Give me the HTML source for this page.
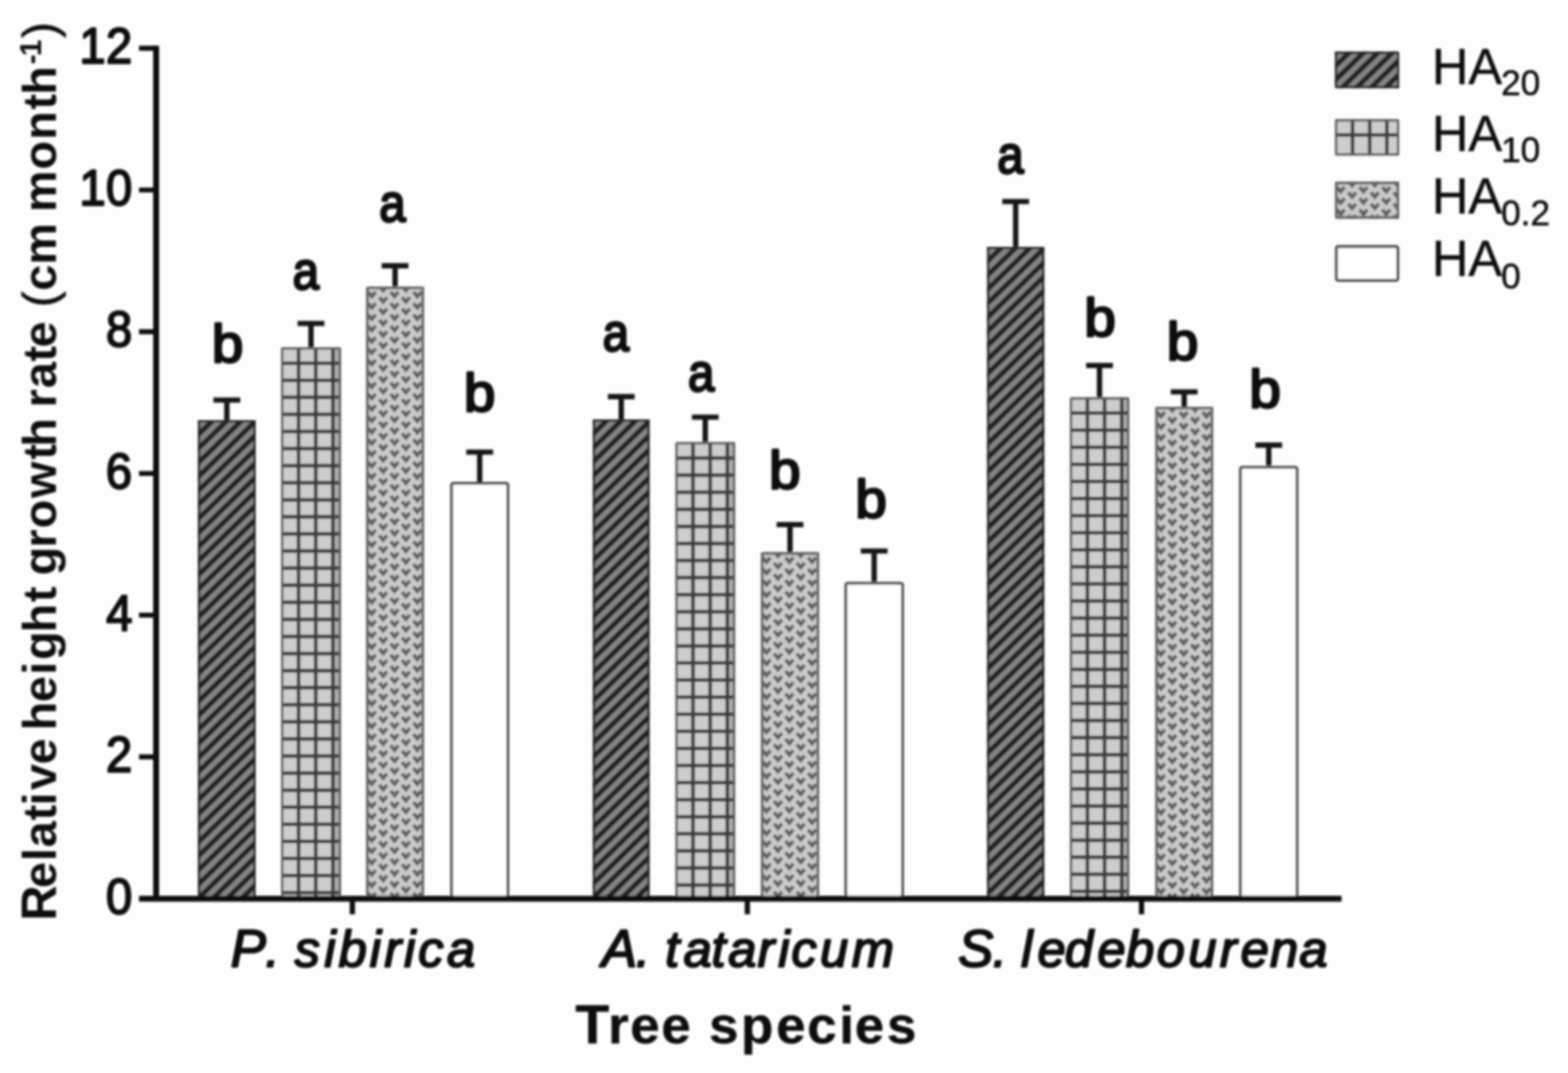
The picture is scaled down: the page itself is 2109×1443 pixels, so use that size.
<!DOCTYPE html>
<html lang="en">
<head>
<meta charset="utf-8">
<title>Relative height growth rate by tree species</title>
<style>
html,body{margin:0;padding:0;background:#fdfdfd;}
body{width:2109px;height:1443px;overflow:hidden;font-family:"Liberation Sans", Arial, Helvetica, sans-serif;}
svg{display:block;}
</style>
</head>
<body>
<svg width="2109" height="1443" viewBox="0 0 2109 1443" font-family='"Liberation Sans", Arial, Helvetica, sans-serif' fill="#0c0c0c">
<defs><filter id="soft" x="-2%" y="-2%" width="104%" height="104%"><feGaussianBlur stdDeviation="1.5"/></filter></defs>
<rect width="2109" height="1443" fill="#fdfdfd"/>
<g filter="url(#soft)">
<path d="M305.1 567.0V538.0M287.1 538.0H323.1" stroke="#181818" stroke-width="7.2" fill="none"/>
<g>
<clipPath id="cb0"><rect x="266.3" y="565.0" width="77.5" height="643.5"/></clipPath>
<rect x="266.3" y="565.0" width="77.5" height="643.5" fill="#848484"/>
<g clip-path="url(#cb0)">
<path d="M260.3 552.9L349.8 465.8M260.3 571.8L349.8 484.7M260.3 590.7L349.8 503.6M260.3 609.6L349.8 522.5M260.3 628.5L349.8 541.4M260.3 647.4L349.8 560.3M260.3 666.3L349.8 579.2M260.3 685.2L349.8 598.1M260.3 704.1L349.8 617.0M260.3 723.0L349.8 635.9M260.3 741.9L349.8 654.8M260.3 760.8L349.8 673.7M260.3 779.7L349.8 692.6M260.3 798.6L349.8 711.5M260.3 817.5L349.8 730.4M260.3 836.4L349.8 749.3M260.3 855.3L349.8 768.2M260.3 874.2L349.8 787.1M260.3 893.1L349.8 806.0M260.3 912.0L349.8 824.9M260.3 930.9L349.8 843.8M260.3 949.8L349.8 862.7M260.3 968.7L349.8 881.6M260.3 987.6L349.8 900.5M260.3 1006.5L349.8 919.4M260.3 1025.4L349.8 938.3M260.3 1044.3L349.8 957.2M260.3 1063.2L349.8 976.1M260.3 1082.1L349.8 995.0M260.3 1101.0L349.8 1013.9M260.3 1119.9L349.8 1032.8M260.3 1138.8L349.8 1051.7M260.3 1157.7L349.8 1070.6M260.3 1176.6L349.8 1089.5M260.3 1195.5L349.8 1108.4M260.3 1214.4L349.8 1127.3M260.3 1233.3L349.8 1146.2M260.3 1252.2L349.8 1165.1M260.3 1271.1L349.8 1184.0M260.3 1290.0L349.8 1202.9M260.3 1308.9L349.8 1221.8M260.3 1327.8L349.8 1240.7M260.3 1346.7L349.8 1259.6" stroke="#202020" stroke-width="6.9" fill="none"/>
</g>
<rect x="267.8" y="566.5" width="74.5" height="640.5" rx="0.5" fill="none" stroke="#2a2a2a" stroke-width="3.0"/>
</g>
<text transform="translate(306.1 486.6) scale(1.1 1.055)" font-size="69" text-anchor="middle" stroke="#0c0c0c" stroke-width="3.2" stroke-linejoin="round">b</text>
<path d="M418.3 469.0V435.0M400.3 435.0H436.3" stroke="#181818" stroke-width="7.2" fill="none"/>
<g>
<clipPath id="cb1"><rect x="378.0" y="467.0" width="80.6" height="741.5"/></clipPath>
<rect x="378.0" y="467.0" width="80.6" height="741.5" fill="#cdcdcd"/>
<g clip-path="url(#cb1)">
<rect x="447.8" y="467.0" width="10.8" height="741.5" fill="#000" fill-opacity="0.13"/>
<path d="M401.6 467.0V1208.5M424.7 467.0V1208.5M447.8 467.0V1208.5M378.0 488.4H458.6M378.0 511.4H458.6M378.0 534.3H458.6M378.0 557.3H458.6M378.0 580.3H458.6M378.0 603.3H458.6M378.0 626.2H458.6M378.0 649.2H458.6M378.0 672.2H458.6M378.0 695.1H458.6M378.0 718.1H458.6M378.0 741.1H458.6M378.0 764.0H458.6M378.0 787.0H458.6M378.0 810.0H458.6M378.0 833.0H458.6M378.0 855.9H458.6M378.0 878.9H458.6M378.0 901.9H458.6M378.0 924.8H458.6M378.0 947.8H458.6M378.0 970.8H458.6M378.0 993.7H458.6M378.0 1016.7H458.6M378.0 1039.7H458.6M378.0 1062.7H458.6M378.0 1085.6H458.6M378.0 1108.6H458.6M378.0 1131.6H458.6M378.0 1154.5H458.6M378.0 1177.5H458.6M378.0 1200.5H458.6" stroke="#3e3e3e" stroke-width="5.0" fill="none"/>
</g>
<rect x="379.6" y="468.6" width="77.4" height="738.3" rx="0.5" fill="none" stroke="#5e5e5e" stroke-width="3.2"/>
</g>
<text transform="translate(411.5 388.6) scale(0.92 1.055)" font-size="69" text-anchor="middle" stroke="#0c0c0c" stroke-width="3.2" stroke-linejoin="round">a</text>
<path d="M531.4 387.4V357.4M513.4 357.4H549.4" stroke="#181818" stroke-width="7.2" fill="none"/>
<g>
<clipPath id="cb2"><rect x="492.4" y="385.4" width="78.0" height="823.1"/></clipPath>
<rect x="492.4" y="385.4" width="78.0" height="823.1" fill="#cbcbcb"/>
<g clip-path="url(#cb2)">
<path d="M479.6 384.6L484.8 390.8L490.0 384.6M479.6 399.8L484.8 406.0L490.0 399.8M479.6 415.1L484.8 421.2L490.0 415.1M479.6 430.3L484.8 436.5L490.0 430.3M479.6 445.6L484.8 451.8L490.0 445.6M479.6 460.8L484.8 467.0L490.0 460.8M479.6 476.1L484.8 482.2L490.0 476.1M479.6 491.3L484.8 497.5L490.0 491.3M479.6 506.6L484.8 512.8L490.0 506.6M479.6 521.8L484.8 528.0L490.0 521.8M479.6 537.0L484.8 543.2L490.0 537.0M479.6 552.3L484.8 558.5L490.0 552.3M479.6 567.5L484.8 573.8L490.0 567.5M479.6 582.8L484.8 589.0L490.0 582.8M479.6 598.0L484.8 604.2L490.0 598.0M479.6 613.3L484.8 619.5L490.0 613.3M479.6 628.5L484.8 634.8L490.0 628.5M479.6 643.8L484.8 650.0L490.0 643.8M479.6 659.0L484.8 665.2L490.0 659.0M479.6 674.3L484.8 680.5L490.0 674.3M479.6 689.5L484.8 695.8L490.0 689.5M479.6 704.8L484.8 711.0L490.0 704.8M479.6 720.0L484.8 726.2L490.0 720.0M479.6 735.3L484.8 741.5L490.0 735.3M479.6 750.5L484.8 756.8L490.0 750.5M479.6 765.8L484.8 772.0L490.0 765.8M479.6 781.0L484.8 787.2L490.0 781.0M479.6 796.3L484.8 802.5L490.0 796.3M479.6 811.5L484.8 817.8L490.0 811.5M479.6 826.8L484.8 833.0L490.0 826.8M479.6 842.0L484.8 848.2L490.0 842.0M479.6 857.3L484.8 863.5L490.0 857.3M479.6 872.5L484.8 878.8L490.0 872.5M479.6 887.8L484.8 894.0L490.0 887.8M479.6 903.0L484.8 909.2L490.0 903.0M479.6 918.3L484.8 924.5L490.0 918.3M479.6 933.5L484.8 939.8L490.0 933.5M479.6 948.8L484.8 955.0L490.0 948.8M479.6 964.0L484.8 970.2L490.0 964.0M479.6 979.3L484.8 985.5L490.0 979.3M479.6 994.5L484.8 1000.8L490.0 994.5M479.6 1009.8L484.8 1016.0L490.0 1009.8M479.6 1025.0L484.8 1031.2L490.0 1025.0M479.6 1040.3L484.8 1046.5L490.0 1040.3M479.6 1055.5L484.8 1061.8L490.0 1055.5M479.6 1070.8L484.8 1077.0L490.0 1070.8M479.6 1086.0L484.8 1092.2L490.0 1086.0M479.6 1101.3L484.8 1107.5L490.0 1101.3M479.6 1116.5L484.8 1122.8L490.0 1116.5M479.6 1131.8L484.8 1138.0L490.0 1131.8M479.6 1147.0L484.8 1153.2L490.0 1147.0M479.6 1162.3L484.8 1168.5L490.0 1162.3M479.6 1177.5L484.8 1183.8L490.0 1177.5M479.6 1192.8L484.8 1199.0L490.0 1192.8M479.6 1208.0L484.8 1214.2L490.0 1208.0M494.9 377.3L500.1 383.5L505.3 377.3M494.9 392.6L500.1 398.8L505.3 392.6M494.9 407.8L500.1 414.0L505.3 407.8M494.9 423.1L500.1 429.2L505.3 423.1M494.9 438.3L500.1 444.5L505.3 438.3M494.9 453.6L500.1 459.8L505.3 453.6M494.9 468.8L500.1 475.0L505.3 468.8M494.9 484.1L500.1 490.2L505.3 484.1M494.9 499.3L500.1 505.5L505.3 499.3M494.9 514.5L500.1 520.8L505.3 514.5M494.9 529.8L500.1 536.0L505.3 529.8M494.9 545.0L500.1 551.2L505.3 545.0M494.9 560.3L500.1 566.5L505.3 560.3M494.9 575.5L500.1 581.8L505.3 575.5M494.9 590.8L500.1 597.0L505.3 590.8M494.9 606.0L500.1 612.2L505.3 606.0M494.9 621.3L500.1 627.5L505.3 621.3M494.9 636.5L500.1 642.8L505.3 636.5M494.9 651.8L500.1 658.0L505.3 651.8M494.9 667.0L500.1 673.2L505.3 667.0M494.9 682.3L500.1 688.5L505.3 682.3M494.9 697.5L500.1 703.8L505.3 697.5M494.9 712.8L500.1 719.0L505.3 712.8M494.9 728.0L500.1 734.2L505.3 728.0M494.9 743.3L500.1 749.5L505.3 743.3M494.9 758.5L500.1 764.8L505.3 758.5M494.9 773.8L500.1 780.0L505.3 773.8M494.9 789.0L500.1 795.2L505.3 789.0M494.9 804.3L500.1 810.5L505.3 804.3M494.9 819.5L500.1 825.8L505.3 819.5M494.9 834.8L500.1 841.0L505.3 834.8M494.9 850.0L500.1 856.2L505.3 850.0M494.9 865.3L500.1 871.5L505.3 865.3M494.9 880.5L500.1 886.8L505.3 880.5M494.9 895.8L500.1 902.0L505.3 895.8M494.9 911.0L500.1 917.2L505.3 911.0M494.9 926.3L500.1 932.5L505.3 926.3M494.9 941.5L500.1 947.8L505.3 941.5M494.9 956.8L500.1 963.0L505.3 956.8M494.9 972.0L500.1 978.2L505.3 972.0M494.9 987.3L500.1 993.5L505.3 987.3M494.9 1002.5L500.1 1008.8L505.3 1002.5M494.9 1017.8L500.1 1024.0L505.3 1017.8M494.9 1033.0L500.1 1039.2L505.3 1033.0M494.9 1048.3L500.1 1054.5L505.3 1048.3M494.9 1063.5L500.1 1069.8L505.3 1063.5M494.9 1078.8L500.1 1085.0L505.3 1078.8M494.9 1094.0L500.1 1100.2L505.3 1094.0M494.9 1109.3L500.1 1115.5L505.3 1109.3M494.9 1124.5L500.1 1130.8L505.3 1124.5M494.9 1139.8L500.1 1146.0L505.3 1139.8M494.9 1155.0L500.1 1161.2L505.3 1155.0M494.9 1170.3L500.1 1176.5L505.3 1170.3M494.9 1185.5L500.1 1191.8L505.3 1185.5M494.9 1200.8L500.1 1207.0L505.3 1200.8M494.9 1216.0L500.1 1222.2L505.3 1216.0M510.2 384.6L515.4 390.8L520.6 384.6M510.2 399.8L515.4 406.0L520.6 399.8M510.2 415.1L515.4 421.2L520.6 415.1M510.2 430.3L515.4 436.5L520.6 430.3M510.2 445.6L515.4 451.8L520.6 445.6M510.2 460.8L515.4 467.0L520.6 460.8M510.2 476.1L515.4 482.2L520.6 476.1M510.2 491.3L515.4 497.5L520.6 491.3M510.2 506.6L515.4 512.8L520.6 506.6M510.2 521.8L515.4 528.0L520.6 521.8M510.2 537.0L515.4 543.2L520.6 537.0M510.2 552.3L515.4 558.5L520.6 552.3M510.2 567.5L515.4 573.8L520.6 567.5M510.2 582.8L515.4 589.0L520.6 582.8M510.2 598.0L515.4 604.2L520.6 598.0M510.2 613.3L515.4 619.5L520.6 613.3M510.2 628.5L515.4 634.8L520.6 628.5M510.2 643.8L515.4 650.0L520.6 643.8M510.2 659.0L515.4 665.2L520.6 659.0M510.2 674.3L515.4 680.5L520.6 674.3M510.2 689.5L515.4 695.8L520.6 689.5M510.2 704.8L515.4 711.0L520.6 704.8M510.2 720.0L515.4 726.2L520.6 720.0M510.2 735.3L515.4 741.5L520.6 735.3M510.2 750.5L515.4 756.8L520.6 750.5M510.2 765.8L515.4 772.0L520.6 765.8M510.2 781.0L515.4 787.2L520.6 781.0M510.2 796.3L515.4 802.5L520.6 796.3M510.2 811.5L515.4 817.8L520.6 811.5M510.2 826.8L515.4 833.0L520.6 826.8M510.2 842.0L515.4 848.2L520.6 842.0M510.2 857.3L515.4 863.5L520.6 857.3M510.2 872.5L515.4 878.8L520.6 872.5M510.2 887.8L515.4 894.0L520.6 887.8M510.2 903.0L515.4 909.2L520.6 903.0M510.2 918.3L515.4 924.5L520.6 918.3M510.2 933.5L515.4 939.8L520.6 933.5M510.2 948.8L515.4 955.0L520.6 948.8M510.2 964.0L515.4 970.2L520.6 964.0M510.2 979.3L515.4 985.5L520.6 979.3M510.2 994.5L515.4 1000.8L520.6 994.5M510.2 1009.8L515.4 1016.0L520.6 1009.8M510.2 1025.0L515.4 1031.2L520.6 1025.0M510.2 1040.3L515.4 1046.5L520.6 1040.3M510.2 1055.5L515.4 1061.8L520.6 1055.5M510.2 1070.8L515.4 1077.0L520.6 1070.8M510.2 1086.0L515.4 1092.2L520.6 1086.0M510.2 1101.3L515.4 1107.5L520.6 1101.3M510.2 1116.5L515.4 1122.8L520.6 1116.5M510.2 1131.8L515.4 1138.0L520.6 1131.8M510.2 1147.0L515.4 1153.2L520.6 1147.0M510.2 1162.3L515.4 1168.5L520.6 1162.3M510.2 1177.5L515.4 1183.8L520.6 1177.5M510.2 1192.8L515.4 1199.0L520.6 1192.8M510.2 1208.0L515.4 1214.2L520.6 1208.0M525.5 377.3L530.7 383.5L535.9 377.3M525.5 392.6L530.7 398.8L535.9 392.6M525.5 407.8L530.7 414.0L535.9 407.8M525.5 423.1L530.7 429.2L535.9 423.1M525.5 438.3L530.7 444.5L535.9 438.3M525.5 453.6L530.7 459.8L535.9 453.6M525.5 468.8L530.7 475.0L535.9 468.8M525.5 484.1L530.7 490.2L535.9 484.1M525.5 499.3L530.7 505.5L535.9 499.3M525.5 514.5L530.7 520.8L535.9 514.5M525.5 529.8L530.7 536.0L535.9 529.8M525.5 545.0L530.7 551.2L535.9 545.0M525.5 560.3L530.7 566.5L535.9 560.3M525.5 575.5L530.7 581.8L535.9 575.5M525.5 590.8L530.7 597.0L535.9 590.8M525.5 606.0L530.7 612.2L535.9 606.0M525.5 621.3L530.7 627.5L535.9 621.3M525.5 636.5L530.7 642.8L535.9 636.5M525.5 651.8L530.7 658.0L535.9 651.8M525.5 667.0L530.7 673.2L535.9 667.0M525.5 682.3L530.7 688.5L535.9 682.3M525.5 697.5L530.7 703.8L535.9 697.5M525.5 712.8L530.7 719.0L535.9 712.8M525.5 728.0L530.7 734.2L535.9 728.0M525.5 743.3L530.7 749.5L535.9 743.3M525.5 758.5L530.7 764.8L535.9 758.5M525.5 773.8L530.7 780.0L535.9 773.8M525.5 789.0L530.7 795.2L535.9 789.0M525.5 804.3L530.7 810.5L535.9 804.3M525.5 819.5L530.7 825.8L535.9 819.5M525.5 834.8L530.7 841.0L535.9 834.8M525.5 850.0L530.7 856.2L535.9 850.0M525.5 865.3L530.7 871.5L535.9 865.3M525.5 880.5L530.7 886.8L535.9 880.5M525.5 895.8L530.7 902.0L535.9 895.8M525.5 911.0L530.7 917.2L535.9 911.0M525.5 926.3L530.7 932.5L535.9 926.3M525.5 941.5L530.7 947.8L535.9 941.5M525.5 956.8L530.7 963.0L535.9 956.8M525.5 972.0L530.7 978.2L535.9 972.0M525.5 987.3L530.7 993.5L535.9 987.3M525.5 1002.5L530.7 1008.8L535.9 1002.5M525.5 1017.8L530.7 1024.0L535.9 1017.8M525.5 1033.0L530.7 1039.2L535.9 1033.0M525.5 1048.3L530.7 1054.5L535.9 1048.3M525.5 1063.5L530.7 1069.8L535.9 1063.5M525.5 1078.8L530.7 1085.0L535.9 1078.8M525.5 1094.0L530.7 1100.2L535.9 1094.0M525.5 1109.3L530.7 1115.5L535.9 1109.3M525.5 1124.5L530.7 1130.8L535.9 1124.5M525.5 1139.8L530.7 1146.0L535.9 1139.8M525.5 1155.0L530.7 1161.2L535.9 1155.0M525.5 1170.3L530.7 1176.5L535.9 1170.3M525.5 1185.5L530.7 1191.8L535.9 1185.5M525.5 1200.8L530.7 1207.0L535.9 1200.8M525.5 1216.0L530.7 1222.2L535.9 1216.0M540.8 384.6L546.0 390.8L551.2 384.6M540.8 399.8L546.0 406.0L551.2 399.8M540.8 415.1L546.0 421.2L551.2 415.1M540.8 430.3L546.0 436.5L551.2 430.3M540.8 445.6L546.0 451.8L551.2 445.6M540.8 460.8L546.0 467.0L551.2 460.8M540.8 476.1L546.0 482.2L551.2 476.1M540.8 491.3L546.0 497.5L551.2 491.3M540.8 506.6L546.0 512.8L551.2 506.6M540.8 521.8L546.0 528.0L551.2 521.8M540.8 537.0L546.0 543.2L551.2 537.0M540.8 552.3L546.0 558.5L551.2 552.3M540.8 567.5L546.0 573.8L551.2 567.5M540.8 582.8L546.0 589.0L551.2 582.8M540.8 598.0L546.0 604.2L551.2 598.0M540.8 613.3L546.0 619.5L551.2 613.3M540.8 628.5L546.0 634.8L551.2 628.5M540.8 643.8L546.0 650.0L551.2 643.8M540.8 659.0L546.0 665.2L551.2 659.0M540.8 674.3L546.0 680.5L551.2 674.3M540.8 689.5L546.0 695.8L551.2 689.5M540.8 704.8L546.0 711.0L551.2 704.8M540.8 720.0L546.0 726.2L551.2 720.0M540.8 735.3L546.0 741.5L551.2 735.3M540.8 750.5L546.0 756.8L551.2 750.5M540.8 765.8L546.0 772.0L551.2 765.8M540.8 781.0L546.0 787.2L551.2 781.0M540.8 796.3L546.0 802.5L551.2 796.3M540.8 811.5L546.0 817.8L551.2 811.5M540.8 826.8L546.0 833.0L551.2 826.8M540.8 842.0L546.0 848.2L551.2 842.0M540.8 857.3L546.0 863.5L551.2 857.3M540.8 872.5L546.0 878.8L551.2 872.5M540.8 887.8L546.0 894.0L551.2 887.8M540.8 903.0L546.0 909.2L551.2 903.0M540.8 918.3L546.0 924.5L551.2 918.3M540.8 933.5L546.0 939.8L551.2 933.5M540.8 948.8L546.0 955.0L551.2 948.8M540.8 964.0L546.0 970.2L551.2 964.0M540.8 979.3L546.0 985.5L551.2 979.3M540.8 994.5L546.0 1000.8L551.2 994.5M540.8 1009.8L546.0 1016.0L551.2 1009.8M540.8 1025.0L546.0 1031.2L551.2 1025.0M540.8 1040.3L546.0 1046.5L551.2 1040.3M540.8 1055.5L546.0 1061.8L551.2 1055.5M540.8 1070.8L546.0 1077.0L551.2 1070.8M540.8 1086.0L546.0 1092.2L551.2 1086.0M540.8 1101.3L546.0 1107.5L551.2 1101.3M540.8 1116.5L546.0 1122.8L551.2 1116.5M540.8 1131.8L546.0 1138.0L551.2 1131.8M540.8 1147.0L546.0 1153.2L551.2 1147.0M540.8 1162.3L546.0 1168.5L551.2 1162.3M540.8 1177.5L546.0 1183.8L551.2 1177.5M540.8 1192.8L546.0 1199.0L551.2 1192.8M540.8 1208.0L546.0 1214.2L551.2 1208.0M556.1 377.3L561.3 383.5L566.5 377.3M556.1 392.6L561.3 398.8L566.5 392.6M556.1 407.8L561.3 414.0L566.5 407.8M556.1 423.1L561.3 429.2L566.5 423.1M556.1 438.3L561.3 444.5L566.5 438.3M556.1 453.6L561.3 459.8L566.5 453.6M556.1 468.8L561.3 475.0L566.5 468.8M556.1 484.1L561.3 490.2L566.5 484.1M556.1 499.3L561.3 505.5L566.5 499.3M556.1 514.5L561.3 520.8L566.5 514.5M556.1 529.8L561.3 536.0L566.5 529.8M556.1 545.0L561.3 551.2L566.5 545.0M556.1 560.3L561.3 566.5L566.5 560.3M556.1 575.5L561.3 581.8L566.5 575.5M556.1 590.8L561.3 597.0L566.5 590.8M556.1 606.0L561.3 612.2L566.5 606.0M556.1 621.3L561.3 627.5L566.5 621.3M556.1 636.5L561.3 642.8L566.5 636.5M556.1 651.8L561.3 658.0L566.5 651.8M556.1 667.0L561.3 673.2L566.5 667.0M556.1 682.3L561.3 688.5L566.5 682.3M556.1 697.5L561.3 703.8L566.5 697.5M556.1 712.8L561.3 719.0L566.5 712.8M556.1 728.0L561.3 734.2L566.5 728.0M556.1 743.3L561.3 749.5L566.5 743.3M556.1 758.5L561.3 764.8L566.5 758.5M556.1 773.8L561.3 780.0L566.5 773.8M556.1 789.0L561.3 795.2L566.5 789.0M556.1 804.3L561.3 810.5L566.5 804.3M556.1 819.5L561.3 825.8L566.5 819.5M556.1 834.8L561.3 841.0L566.5 834.8M556.1 850.0L561.3 856.2L566.5 850.0M556.1 865.3L561.3 871.5L566.5 865.3M556.1 880.5L561.3 886.8L566.5 880.5M556.1 895.8L561.3 902.0L566.5 895.8M556.1 911.0L561.3 917.2L566.5 911.0M556.1 926.3L561.3 932.5L566.5 926.3M556.1 941.5L561.3 947.8L566.5 941.5M556.1 956.8L561.3 963.0L566.5 956.8M556.1 972.0L561.3 978.2L566.5 972.0M556.1 987.3L561.3 993.5L566.5 987.3M556.1 1002.5L561.3 1008.8L566.5 1002.5M556.1 1017.8L561.3 1024.0L566.5 1017.8M556.1 1033.0L561.3 1039.2L566.5 1033.0M556.1 1048.3L561.3 1054.5L566.5 1048.3M556.1 1063.5L561.3 1069.8L566.5 1063.5M556.1 1078.8L561.3 1085.0L566.5 1078.8M556.1 1094.0L561.3 1100.2L566.5 1094.0M556.1 1109.3L561.3 1115.5L566.5 1109.3M556.1 1124.5L561.3 1130.8L566.5 1124.5M556.1 1139.8L561.3 1146.0L566.5 1139.8M556.1 1155.0L561.3 1161.2L566.5 1155.0M556.1 1170.3L561.3 1176.5L566.5 1170.3M556.1 1185.5L561.3 1191.8L566.5 1185.5M556.1 1200.8L561.3 1207.0L566.5 1200.8M556.1 1216.0L561.3 1222.2L566.5 1216.0M571.4 384.6L576.6 390.8L581.8 384.6M571.4 399.8L576.6 406.0L581.8 399.8M571.4 415.1L576.6 421.2L581.8 415.1M571.4 430.3L576.6 436.5L581.8 430.3M571.4 445.6L576.6 451.8L581.8 445.6M571.4 460.8L576.6 467.0L581.8 460.8M571.4 476.1L576.6 482.2L581.8 476.1M571.4 491.3L576.6 497.5L581.8 491.3M571.4 506.6L576.6 512.8L581.8 506.6M571.4 521.8L576.6 528.0L581.8 521.8M571.4 537.0L576.6 543.2L581.8 537.0M571.4 552.3L576.6 558.5L581.8 552.3M571.4 567.5L576.6 573.8L581.8 567.5M571.4 582.8L576.6 589.0L581.8 582.8M571.4 598.0L576.6 604.2L581.8 598.0M571.4 613.3L576.6 619.5L581.8 613.3M571.4 628.5L576.6 634.8L581.8 628.5M571.4 643.8L576.6 650.0L581.8 643.8M571.4 659.0L576.6 665.2L581.8 659.0M571.4 674.3L576.6 680.5L581.8 674.3M571.4 689.5L576.6 695.8L581.8 689.5M571.4 704.8L576.6 711.0L581.8 704.8M571.4 720.0L576.6 726.2L581.8 720.0M571.4 735.3L576.6 741.5L581.8 735.3M571.4 750.5L576.6 756.8L581.8 750.5M571.4 765.8L576.6 772.0L581.8 765.8M571.4 781.0L576.6 787.2L581.8 781.0M571.4 796.3L576.6 802.5L581.8 796.3M571.4 811.5L576.6 817.8L581.8 811.5M571.4 826.8L576.6 833.0L581.8 826.8M571.4 842.0L576.6 848.2L581.8 842.0M571.4 857.3L576.6 863.5L581.8 857.3M571.4 872.5L576.6 878.8L581.8 872.5M571.4 887.8L576.6 894.0L581.8 887.8M571.4 903.0L576.6 909.2L581.8 903.0M571.4 918.3L576.6 924.5L581.8 918.3M571.4 933.5L576.6 939.8L581.8 933.5M571.4 948.8L576.6 955.0L581.8 948.8M571.4 964.0L576.6 970.2L581.8 964.0M571.4 979.3L576.6 985.5L581.8 979.3M571.4 994.5L576.6 1000.8L581.8 994.5M571.4 1009.8L576.6 1016.0L581.8 1009.8M571.4 1025.0L576.6 1031.2L581.8 1025.0M571.4 1040.3L576.6 1046.5L581.8 1040.3M571.4 1055.5L576.6 1061.8L581.8 1055.5M571.4 1070.8L576.6 1077.0L581.8 1070.8M571.4 1086.0L576.6 1092.2L581.8 1086.0M571.4 1101.3L576.6 1107.5L581.8 1101.3M571.4 1116.5L576.6 1122.8L581.8 1116.5M571.4 1131.8L576.6 1138.0L581.8 1131.8M571.4 1147.0L576.6 1153.2L581.8 1147.0M571.4 1162.3L576.6 1168.5L581.8 1162.3M571.4 1177.5L576.6 1183.8L581.8 1177.5M571.4 1192.8L576.6 1199.0L581.8 1192.8M571.4 1208.0L576.6 1214.2L581.8 1208.0" stroke="#5e5e5e" stroke-width="4.9" fill="none" stroke-linejoin="miter"/>
</g>
<rect x="494.2" y="387.2" width="74.4" height="819.5" rx="0.5" fill="none" stroke="#666666" stroke-width="3.6"/>
</g>
<text transform="translate(527.9 297.6) scale(0.92 1.055)" font-size="69" text-anchor="middle" stroke="#0c0c0c" stroke-width="3.2" stroke-linejoin="round">a</text>
<path d="M645.2 650.0V608.0M627.2 608.0H663.2" stroke="#181818" stroke-width="7.2" fill="none"/>
<g>
<clipPath id="cb3"><rect x="605.5" y="648.0" width="79.5" height="560.5"/></clipPath>
<rect x="605.5" y="648.0" width="79.5" height="560.5" fill="#ffffff"/>
<g clip-path="url(#cb3)">
</g>
<rect x="607.4" y="649.9" width="75.7" height="556.7" rx="2" fill="none" stroke="#4c4c4c" stroke-width="3.8"/>
</g>
<text transform="translate(645.1 552.6) scale(1.1 1.055)" font-size="69" text-anchor="middle" stroke="#0c0c0c" stroke-width="3.2" stroke-linejoin="round">b</text>
<path d="M835.6 566.0V533.4M817.6 533.4H853.6" stroke="#181818" stroke-width="7.2" fill="none"/>
<g>
<clipPath id="cb4"><rect x="797.5" y="564.0" width="76.2" height="644.5"/></clipPath>
<rect x="797.5" y="564.0" width="76.2" height="644.5" fill="#848484"/>
<g clip-path="url(#cb4)">
<path d="M791.5 551.9L879.7 466.0M791.5 570.8L879.7 484.9M791.5 589.7L879.7 503.8M791.5 608.6L879.7 522.7M791.5 627.5L879.7 541.6M791.5 646.4L879.7 560.5M791.5 665.3L879.7 579.4M791.5 684.2L879.7 598.3M791.5 703.1L879.7 617.2M791.5 722.0L879.7 636.1M791.5 740.9L879.7 655.0M791.5 759.8L879.7 673.9M791.5 778.7L879.7 692.8M791.5 797.6L879.7 711.7M791.5 816.5L879.7 730.6M791.5 835.4L879.7 749.5M791.5 854.3L879.7 768.4M791.5 873.2L879.7 787.3M791.5 892.1L879.7 806.2M791.5 911.0L879.7 825.1M791.5 929.9L879.7 844.0M791.5 948.8L879.7 862.9M791.5 967.7L879.7 881.8M791.5 986.6L879.7 900.7M791.5 1005.5L879.7 919.6M791.5 1024.4L879.7 938.5M791.5 1043.3L879.7 957.4M791.5 1062.2L879.7 976.3M791.5 1081.1L879.7 995.2M791.5 1100.0L879.7 1014.1M791.5 1118.9L879.7 1033.0M791.5 1137.8L879.7 1051.9M791.5 1156.7L879.7 1070.8M791.5 1175.6L879.7 1089.7M791.5 1194.5L879.7 1108.6M791.5 1213.4L879.7 1127.5M791.5 1232.3L879.7 1146.4M791.5 1251.2L879.7 1165.3M791.5 1270.1L879.7 1184.2M791.5 1289.0L879.7 1203.1M791.5 1307.9L879.7 1222.0M791.5 1326.8L879.7 1240.9M791.5 1345.7L879.7 1259.8" stroke="#202020" stroke-width="6.9" fill="none"/>
</g>
<rect x="799.0" y="565.5" width="73.2" height="641.5" rx="0.5" fill="none" stroke="#2a2a2a" stroke-width="3.0"/>
</g>
<text transform="translate(828.4 472.1) scale(0.92 1.055)" font-size="69" text-anchor="middle" stroke="#0c0c0c" stroke-width="3.2" stroke-linejoin="round">a</text>
<path d="M948.6 596.6V561.0M930.6 561.0H966.6" stroke="#181818" stroke-width="7.2" fill="none"/>
<g>
<clipPath id="cb5"><rect x="908.5" y="594.6" width="80.3" height="613.9"/></clipPath>
<rect x="908.5" y="594.6" width="80.3" height="613.9" fill="#cdcdcd"/>
<g clip-path="url(#cb5)">
<rect x="978.3" y="594.6" width="10.5" height="613.9" fill="#000" fill-opacity="0.13"/>
<path d="M932.1 594.6V1208.5M955.2 594.6V1208.5M978.3 594.6V1208.5M908.5 616.0H988.8M908.5 639.0H988.8M908.5 661.9H988.8M908.5 684.9H988.8M908.5 707.9H988.8M908.5 730.9H988.8M908.5 753.8H988.8M908.5 776.8H988.8M908.5 799.8H988.8M908.5 822.7H988.8M908.5 845.7H988.8M908.5 868.7H988.8M908.5 891.6H988.8M908.5 914.6H988.8M908.5 937.6H988.8M908.5 960.6H988.8M908.5 983.5H988.8M908.5 1006.5H988.8M908.5 1029.5H988.8M908.5 1052.4H988.8M908.5 1075.4H988.8M908.5 1098.4H988.8M908.5 1121.3H988.8M908.5 1144.3H988.8M908.5 1167.3H988.8M908.5 1190.3H988.8" stroke="#3e3e3e" stroke-width="5.0" fill="none"/>
</g>
<rect x="910.1" y="596.2" width="77.1" height="610.7" rx="0.5" fill="none" stroke="#5e5e5e" stroke-width="3.2"/>
</g>
<text transform="translate(943.1 526.3) scale(0.92 1.055)" font-size="69" text-anchor="middle" stroke="#0c0c0c" stroke-width="3.2" stroke-linejoin="round">a</text>
<path d="M1062.6 744.6V705.5M1044.6 705.5H1080.6" stroke="#181818" stroke-width="7.2" fill="none"/>
<g>
<clipPath id="cb6"><rect x="1023.4" y="742.6" width="78.4" height="465.9"/></clipPath>
<rect x="1023.4" y="742.6" width="78.4" height="465.9" fill="#cbcbcb"/>
<g clip-path="url(#cb6)">
<path d="M1010.6 741.8L1015.8 748.0L1021.0 741.8M1010.6 757.0L1015.8 763.2L1021.0 757.0M1010.6 772.2L1015.8 778.5L1021.0 772.2M1010.6 787.5L1015.8 793.7L1021.0 787.5M1010.6 802.8L1015.8 809.0L1021.0 802.8M1010.6 818.0L1015.8 824.2L1021.0 818.0M1010.6 833.2L1015.8 839.5L1021.0 833.2M1010.6 848.5L1015.8 854.7L1021.0 848.5M1010.6 863.8L1015.8 870.0L1021.0 863.8M1010.6 879.0L1015.8 885.2L1021.0 879.0M1010.6 894.2L1015.8 900.5L1021.0 894.2M1010.6 909.5L1015.8 915.7L1021.0 909.5M1010.6 924.8L1015.8 931.0L1021.0 924.8M1010.6 940.0L1015.8 946.2L1021.0 940.0M1010.6 955.2L1015.8 961.5L1021.0 955.2M1010.6 970.5L1015.8 976.7L1021.0 970.5M1010.6 985.8L1015.8 992.0L1021.0 985.8M1010.6 1001.0L1015.8 1007.2L1021.0 1001.0M1010.6 1016.2L1015.8 1022.5L1021.0 1016.2M1010.6 1031.5L1015.8 1037.7L1021.0 1031.5M1010.6 1046.8L1015.8 1053.0L1021.0 1046.8M1010.6 1062.0L1015.8 1068.2L1021.0 1062.0M1010.6 1077.2L1015.8 1083.5L1021.0 1077.2M1010.6 1092.5L1015.8 1098.7L1021.0 1092.5M1010.6 1107.8L1015.8 1114.0L1021.0 1107.8M1010.6 1123.0L1015.8 1129.2L1021.0 1123.0M1010.6 1138.2L1015.8 1144.5L1021.0 1138.2M1010.6 1153.5L1015.8 1159.7L1021.0 1153.5M1010.6 1168.8L1015.8 1175.0L1021.0 1168.8M1010.6 1184.0L1015.8 1190.2L1021.0 1184.0M1010.6 1199.2L1015.8 1205.5L1021.0 1199.2M1010.6 1214.5L1015.8 1220.7L1021.0 1214.5M1025.9 734.5L1031.1 740.7L1036.3 734.5M1025.9 749.8L1031.1 756.0L1036.3 749.8M1025.9 765.0L1031.1 771.2L1036.3 765.0M1025.9 780.2L1031.1 786.5L1036.3 780.2M1025.9 795.5L1031.1 801.7L1036.3 795.5M1025.9 810.8L1031.1 817.0L1036.3 810.8M1025.9 826.0L1031.1 832.2L1036.3 826.0M1025.9 841.2L1031.1 847.5L1036.3 841.2M1025.9 856.5L1031.1 862.7L1036.3 856.5M1025.9 871.8L1031.1 878.0L1036.3 871.8M1025.9 887.0L1031.1 893.2L1036.3 887.0M1025.9 902.2L1031.1 908.5L1036.3 902.2M1025.9 917.5L1031.1 923.7L1036.3 917.5M1025.9 932.8L1031.1 939.0L1036.3 932.8M1025.9 948.0L1031.1 954.2L1036.3 948.0M1025.9 963.2L1031.1 969.5L1036.3 963.2M1025.9 978.5L1031.1 984.7L1036.3 978.5M1025.9 993.8L1031.1 1000.0L1036.3 993.8M1025.9 1009.0L1031.1 1015.2L1036.3 1009.0M1025.9 1024.2L1031.1 1030.5L1036.3 1024.2M1025.9 1039.5L1031.1 1045.7L1036.3 1039.5M1025.9 1054.8L1031.1 1061.0L1036.3 1054.8M1025.9 1070.0L1031.1 1076.2L1036.3 1070.0M1025.9 1085.2L1031.1 1091.5L1036.3 1085.2M1025.9 1100.5L1031.1 1106.7L1036.3 1100.5M1025.9 1115.8L1031.1 1122.0L1036.3 1115.8M1025.9 1131.0L1031.1 1137.2L1036.3 1131.0M1025.9 1146.2L1031.1 1152.5L1036.3 1146.2M1025.9 1161.5L1031.1 1167.7L1036.3 1161.5M1025.9 1176.8L1031.1 1183.0L1036.3 1176.8M1025.9 1192.0L1031.1 1198.2L1036.3 1192.0M1025.9 1207.2L1031.1 1213.5L1036.3 1207.2M1041.2 741.8L1046.4 748.0L1051.6 741.8M1041.2 757.0L1046.4 763.2L1051.6 757.0M1041.2 772.2L1046.4 778.5L1051.6 772.2M1041.2 787.5L1046.4 793.7L1051.6 787.5M1041.2 802.8L1046.4 809.0L1051.6 802.8M1041.2 818.0L1046.4 824.2L1051.6 818.0M1041.2 833.2L1046.4 839.5L1051.6 833.2M1041.2 848.5L1046.4 854.7L1051.6 848.5M1041.2 863.8L1046.4 870.0L1051.6 863.8M1041.2 879.0L1046.4 885.2L1051.6 879.0M1041.2 894.2L1046.4 900.5L1051.6 894.2M1041.2 909.5L1046.4 915.7L1051.6 909.5M1041.2 924.8L1046.4 931.0L1051.6 924.8M1041.2 940.0L1046.4 946.2L1051.6 940.0M1041.2 955.2L1046.4 961.5L1051.6 955.2M1041.2 970.5L1046.4 976.7L1051.6 970.5M1041.2 985.8L1046.4 992.0L1051.6 985.8M1041.2 1001.0L1046.4 1007.2L1051.6 1001.0M1041.2 1016.2L1046.4 1022.5L1051.6 1016.2M1041.2 1031.5L1046.4 1037.7L1051.6 1031.5M1041.2 1046.8L1046.4 1053.0L1051.6 1046.8M1041.2 1062.0L1046.4 1068.2L1051.6 1062.0M1041.2 1077.2L1046.4 1083.5L1051.6 1077.2M1041.2 1092.5L1046.4 1098.7L1051.6 1092.5M1041.2 1107.8L1046.4 1114.0L1051.6 1107.8M1041.2 1123.0L1046.4 1129.2L1051.6 1123.0M1041.2 1138.2L1046.4 1144.5L1051.6 1138.2M1041.2 1153.5L1046.4 1159.7L1051.6 1153.5M1041.2 1168.8L1046.4 1175.0L1051.6 1168.8M1041.2 1184.0L1046.4 1190.2L1051.6 1184.0M1041.2 1199.2L1046.4 1205.5L1051.6 1199.2M1041.2 1214.5L1046.4 1220.7L1051.6 1214.5M1056.5 734.5L1061.7 740.7L1066.9 734.5M1056.5 749.8L1061.7 756.0L1066.9 749.8M1056.5 765.0L1061.7 771.2L1066.9 765.0M1056.5 780.2L1061.7 786.5L1066.9 780.2M1056.5 795.5L1061.7 801.7L1066.9 795.5M1056.5 810.8L1061.7 817.0L1066.9 810.8M1056.5 826.0L1061.7 832.2L1066.9 826.0M1056.5 841.2L1061.7 847.5L1066.9 841.2M1056.5 856.5L1061.7 862.7L1066.9 856.5M1056.5 871.8L1061.7 878.0L1066.9 871.8M1056.5 887.0L1061.7 893.2L1066.9 887.0M1056.5 902.2L1061.7 908.5L1066.9 902.2M1056.5 917.5L1061.7 923.7L1066.9 917.5M1056.5 932.8L1061.7 939.0L1066.9 932.8M1056.5 948.0L1061.7 954.2L1066.9 948.0M1056.5 963.2L1061.7 969.5L1066.9 963.2M1056.5 978.5L1061.7 984.7L1066.9 978.5M1056.5 993.8L1061.7 1000.0L1066.9 993.8M1056.5 1009.0L1061.7 1015.2L1066.9 1009.0M1056.5 1024.2L1061.7 1030.5L1066.9 1024.2M1056.5 1039.5L1061.7 1045.7L1066.9 1039.5M1056.5 1054.8L1061.7 1061.0L1066.9 1054.8M1056.5 1070.0L1061.7 1076.2L1066.9 1070.0M1056.5 1085.2L1061.7 1091.5L1066.9 1085.2M1056.5 1100.5L1061.7 1106.7L1066.9 1100.5M1056.5 1115.8L1061.7 1122.0L1066.9 1115.8M1056.5 1131.0L1061.7 1137.2L1066.9 1131.0M1056.5 1146.2L1061.7 1152.5L1066.9 1146.2M1056.5 1161.5L1061.7 1167.7L1066.9 1161.5M1056.5 1176.8L1061.7 1183.0L1066.9 1176.8M1056.5 1192.0L1061.7 1198.2L1066.9 1192.0M1056.5 1207.2L1061.7 1213.5L1066.9 1207.2M1071.8 741.8L1077.0 748.0L1082.2 741.8M1071.8 757.0L1077.0 763.2L1082.2 757.0M1071.8 772.2L1077.0 778.5L1082.2 772.2M1071.8 787.5L1077.0 793.7L1082.2 787.5M1071.8 802.8L1077.0 809.0L1082.2 802.8M1071.8 818.0L1077.0 824.2L1082.2 818.0M1071.8 833.2L1077.0 839.5L1082.2 833.2M1071.8 848.5L1077.0 854.7L1082.2 848.5M1071.8 863.8L1077.0 870.0L1082.2 863.8M1071.8 879.0L1077.0 885.2L1082.2 879.0M1071.8 894.2L1077.0 900.5L1082.2 894.2M1071.8 909.5L1077.0 915.7L1082.2 909.5M1071.8 924.8L1077.0 931.0L1082.2 924.8M1071.8 940.0L1077.0 946.2L1082.2 940.0M1071.8 955.2L1077.0 961.5L1082.2 955.2M1071.8 970.5L1077.0 976.7L1082.2 970.5M1071.8 985.8L1077.0 992.0L1082.2 985.8M1071.8 1001.0L1077.0 1007.2L1082.2 1001.0M1071.8 1016.2L1077.0 1022.5L1082.2 1016.2M1071.8 1031.5L1077.0 1037.7L1082.2 1031.5M1071.8 1046.8L1077.0 1053.0L1082.2 1046.8M1071.8 1062.0L1077.0 1068.2L1082.2 1062.0M1071.8 1077.2L1077.0 1083.5L1082.2 1077.2M1071.8 1092.5L1077.0 1098.7L1082.2 1092.5M1071.8 1107.8L1077.0 1114.0L1082.2 1107.8M1071.8 1123.0L1077.0 1129.2L1082.2 1123.0M1071.8 1138.2L1077.0 1144.5L1082.2 1138.2M1071.8 1153.5L1077.0 1159.7L1082.2 1153.5M1071.8 1168.8L1077.0 1175.0L1082.2 1168.8M1071.8 1184.0L1077.0 1190.2L1082.2 1184.0M1071.8 1199.2L1077.0 1205.5L1082.2 1199.2M1071.8 1214.5L1077.0 1220.7L1082.2 1214.5M1087.1 734.5L1092.3 740.7L1097.5 734.5M1087.1 749.8L1092.3 756.0L1097.5 749.8M1087.1 765.0L1092.3 771.2L1097.5 765.0M1087.1 780.2L1092.3 786.5L1097.5 780.2M1087.1 795.5L1092.3 801.7L1097.5 795.5M1087.1 810.8L1092.3 817.0L1097.5 810.8M1087.1 826.0L1092.3 832.2L1097.5 826.0M1087.1 841.2L1092.3 847.5L1097.5 841.2M1087.1 856.5L1092.3 862.7L1097.5 856.5M1087.1 871.8L1092.3 878.0L1097.5 871.8M1087.1 887.0L1092.3 893.2L1097.5 887.0M1087.1 902.2L1092.3 908.5L1097.5 902.2M1087.1 917.5L1092.3 923.7L1097.5 917.5M1087.1 932.8L1092.3 939.0L1097.5 932.8M1087.1 948.0L1092.3 954.2L1097.5 948.0M1087.1 963.2L1092.3 969.5L1097.5 963.2M1087.1 978.5L1092.3 984.7L1097.5 978.5M1087.1 993.8L1092.3 1000.0L1097.5 993.8M1087.1 1009.0L1092.3 1015.2L1097.5 1009.0M1087.1 1024.2L1092.3 1030.5L1097.5 1024.2M1087.1 1039.5L1092.3 1045.7L1097.5 1039.5M1087.1 1054.8L1092.3 1061.0L1097.5 1054.8M1087.1 1070.0L1092.3 1076.2L1097.5 1070.0M1087.1 1085.2L1092.3 1091.5L1097.5 1085.2M1087.1 1100.5L1092.3 1106.7L1097.5 1100.5M1087.1 1115.8L1092.3 1122.0L1097.5 1115.8M1087.1 1131.0L1092.3 1137.2L1097.5 1131.0M1087.1 1146.2L1092.3 1152.5L1097.5 1146.2M1087.1 1161.5L1092.3 1167.7L1097.5 1161.5M1087.1 1176.8L1092.3 1183.0L1097.5 1176.8M1087.1 1192.0L1092.3 1198.2L1097.5 1192.0M1087.1 1207.2L1092.3 1213.5L1097.5 1207.2M1102.4 741.8L1107.6 748.0L1112.8 741.8M1102.4 757.0L1107.6 763.2L1112.8 757.0M1102.4 772.2L1107.6 778.5L1112.8 772.2M1102.4 787.5L1107.6 793.7L1112.8 787.5M1102.4 802.8L1107.6 809.0L1112.8 802.8M1102.4 818.0L1107.6 824.2L1112.8 818.0M1102.4 833.2L1107.6 839.5L1112.8 833.2M1102.4 848.5L1107.6 854.7L1112.8 848.5M1102.4 863.8L1107.6 870.0L1112.8 863.8M1102.4 879.0L1107.6 885.2L1112.8 879.0M1102.4 894.2L1107.6 900.5L1112.8 894.2M1102.4 909.5L1107.6 915.7L1112.8 909.5M1102.4 924.8L1107.6 931.0L1112.8 924.8M1102.4 940.0L1107.6 946.2L1112.8 940.0M1102.4 955.2L1107.6 961.5L1112.8 955.2M1102.4 970.5L1107.6 976.7L1112.8 970.5M1102.4 985.8L1107.6 992.0L1112.8 985.8M1102.4 1001.0L1107.6 1007.2L1112.8 1001.0M1102.4 1016.2L1107.6 1022.5L1112.8 1016.2M1102.4 1031.5L1107.6 1037.7L1112.8 1031.5M1102.4 1046.8L1107.6 1053.0L1112.8 1046.8M1102.4 1062.0L1107.6 1068.2L1112.8 1062.0M1102.4 1077.2L1107.6 1083.5L1112.8 1077.2M1102.4 1092.5L1107.6 1098.7L1112.8 1092.5M1102.4 1107.8L1107.6 1114.0L1112.8 1107.8M1102.4 1123.0L1107.6 1129.2L1112.8 1123.0M1102.4 1138.2L1107.6 1144.5L1112.8 1138.2M1102.4 1153.5L1107.6 1159.7L1112.8 1153.5M1102.4 1168.8L1107.6 1175.0L1112.8 1168.8M1102.4 1184.0L1107.6 1190.2L1112.8 1184.0M1102.4 1199.2L1107.6 1205.5L1112.8 1199.2M1102.4 1214.5L1107.6 1220.7L1112.8 1214.5" stroke="#5e5e5e" stroke-width="4.9" fill="none" stroke-linejoin="miter"/>
</g>
<rect x="1025.2" y="744.4" width="74.8" height="462.3" rx="0.5" fill="none" stroke="#666666" stroke-width="3.6"/>
</g>
<text transform="translate(1055.6 657.4) scale(1.1 1.055)" font-size="69" text-anchor="middle" stroke="#0c0c0c" stroke-width="3.2" stroke-linejoin="round">b</text>
<path d="M1175.8 784.5V741.0M1157.8 741.0H1193.8" stroke="#181818" stroke-width="7.2" fill="none"/>
<g>
<clipPath id="cb7"><rect x="1135.8" y="782.5" width="80.0" height="426.0"/></clipPath>
<rect x="1135.8" y="782.5" width="80.0" height="426.0" fill="#ffffff"/>
<g clip-path="url(#cb7)">
</g>
<rect x="1137.7" y="784.4" width="76.2" height="422.2" rx="2" fill="none" stroke="#4c4c4c" stroke-width="3.8"/>
</g>
<text transform="translate(1171.6 696.0) scale(1.1 1.055)" font-size="69" text-anchor="middle" stroke="#0c0c0c" stroke-width="3.2" stroke-linejoin="round">b</text>
<path d="M1366.1 334.0V271.0M1348.1 271.0H1384.1" stroke="#181818" stroke-width="7.2" fill="none"/>
<g>
<clipPath id="cb8"><rect x="1327.7" y="332.0" width="76.8" height="876.5"/></clipPath>
<rect x="1327.7" y="332.0" width="76.8" height="876.5" fill="#848484"/>
<g clip-path="url(#cb8)">
<path d="M1321.7 319.9L1410.5 233.5M1321.7 338.8L1410.5 252.4M1321.7 357.7L1410.5 271.3M1321.7 376.6L1410.5 290.2M1321.7 395.5L1410.5 309.1M1321.7 414.4L1410.5 328.0M1321.7 433.3L1410.5 346.9M1321.7 452.2L1410.5 365.8M1321.7 471.1L1410.5 384.7M1321.7 490.0L1410.5 403.6M1321.7 508.9L1410.5 422.5M1321.7 527.8L1410.5 441.4M1321.7 546.7L1410.5 460.3M1321.7 565.6L1410.5 479.2M1321.7 584.5L1410.5 498.1M1321.7 603.4L1410.5 517.0M1321.7 622.3L1410.5 535.9M1321.7 641.2L1410.5 554.8M1321.7 660.1L1410.5 573.7M1321.7 679.0L1410.5 592.6M1321.7 697.9L1410.5 611.5M1321.7 716.8L1410.5 630.4M1321.7 735.7L1410.5 649.3M1321.7 754.6L1410.5 668.2M1321.7 773.5L1410.5 687.1M1321.7 792.4L1410.5 706.0M1321.7 811.3L1410.5 724.9M1321.7 830.2L1410.5 743.8M1321.7 849.1L1410.5 762.7M1321.7 868.0L1410.5 781.6M1321.7 886.9L1410.5 800.5M1321.7 905.8L1410.5 819.4M1321.7 924.7L1410.5 838.3M1321.7 943.6L1410.5 857.2M1321.7 962.5L1410.5 876.1M1321.7 981.4L1410.5 895.0M1321.7 1000.3L1410.5 913.9M1321.7 1019.2L1410.5 932.8M1321.7 1038.1L1410.5 951.7M1321.7 1057.0L1410.5 970.6M1321.7 1075.9L1410.5 989.5M1321.7 1094.8L1410.5 1008.4M1321.7 1113.7L1410.5 1027.3M1321.7 1132.6L1410.5 1046.2M1321.7 1151.5L1410.5 1065.1M1321.7 1170.4L1410.5 1084.0M1321.7 1189.3L1410.5 1102.9M1321.7 1208.2L1410.5 1121.8M1321.7 1227.1L1410.5 1140.7M1321.7 1246.0L1410.5 1159.6M1321.7 1264.9L1410.5 1178.5M1321.7 1283.8L1410.5 1197.4M1321.7 1302.7L1410.5 1216.3M1321.7 1321.6L1410.5 1235.2M1321.7 1340.5L1410.5 1254.1" stroke="#202020" stroke-width="6.9" fill="none"/>
</g>
<rect x="1329.2" y="333.5" width="73.8" height="873.5" rx="0.5" fill="none" stroke="#2a2a2a" stroke-width="3.0"/>
</g>
<text transform="translate(1359.1 233.1) scale(0.92 1.055)" font-size="69" text-anchor="middle" stroke="#0c0c0c" stroke-width="3.2" stroke-linejoin="round">a</text>
<path d="M1478.9 536.2V491.5M1460.9 491.5H1496.9" stroke="#181818" stroke-width="7.2" fill="none"/>
<g>
<clipPath id="cb9"><rect x="1439.0" y="534.2" width="79.8" height="674.3"/></clipPath>
<rect x="1439.0" y="534.2" width="79.8" height="674.3" fill="#cdcdcd"/>
<g clip-path="url(#cb9)">
<rect x="1508.8" y="534.2" width="10.0" height="674.3" fill="#000" fill-opacity="0.13"/>
<path d="M1462.6 534.2V1208.5M1485.7 534.2V1208.5M1508.8 534.2V1208.5M1439.0 555.6H1518.8M1439.0 578.6H1518.8M1439.0 601.5H1518.8M1439.0 624.5H1518.8M1439.0 647.5H1518.8M1439.0 670.5H1518.8M1439.0 693.4H1518.8M1439.0 716.4H1518.8M1439.0 739.4H1518.8M1439.0 762.3H1518.8M1439.0 785.3H1518.8M1439.0 808.3H1518.8M1439.0 831.2H1518.8M1439.0 854.2H1518.8M1439.0 877.2H1518.8M1439.0 900.2H1518.8M1439.0 923.1H1518.8M1439.0 946.1H1518.8M1439.0 969.1H1518.8M1439.0 992.0H1518.8M1439.0 1015.0H1518.8M1439.0 1038.0H1518.8M1439.0 1060.9H1518.8M1439.0 1083.9H1518.8M1439.0 1106.9H1518.8M1439.0 1129.9H1518.8M1439.0 1152.8H1518.8M1439.0 1175.8H1518.8M1439.0 1198.8H1518.8" stroke="#3e3e3e" stroke-width="5.0" fill="none"/>
</g>
<rect x="1440.6" y="535.8" width="76.6" height="671.1" rx="0.5" fill="none" stroke="#5e5e5e" stroke-width="3.2"/>
</g>
<text transform="translate(1479.6 452.3) scale(1.1 1.055)" font-size="69" text-anchor="middle" stroke="#0c0c0c" stroke-width="3.2" stroke-linejoin="round">b</text>
<path d="M1592.8 549.0V527.0M1574.8 527.0H1610.8" stroke="#181818" stroke-width="7.2" fill="none"/>
<g>
<clipPath id="cb10"><rect x="1553.8" y="547.0" width="78.0" height="661.5"/></clipPath>
<rect x="1553.8" y="547.0" width="78.0" height="661.5" fill="#cbcbcb"/>
<g clip-path="url(#cb10)">
<path d="M1541.0 546.1L1546.2 552.4L1551.4 546.1M1541.0 561.4L1546.2 567.6L1551.4 561.4M1541.0 576.6L1546.2 582.9L1551.4 576.6M1541.0 591.9L1546.2 598.1L1551.4 591.9M1541.0 607.1L1546.2 613.4L1551.4 607.1M1541.0 622.4L1546.2 628.6L1551.4 622.4M1541.0 637.6L1546.2 643.9L1551.4 637.6M1541.0 652.9L1546.2 659.1L1551.4 652.9M1541.0 668.1L1546.2 674.4L1551.4 668.1M1541.0 683.4L1546.2 689.6L1551.4 683.4M1541.0 698.6L1546.2 704.9L1551.4 698.6M1541.0 713.9L1546.2 720.1L1551.4 713.9M1541.0 729.1L1546.2 735.4L1551.4 729.1M1541.0 744.4L1546.2 750.6L1551.4 744.4M1541.0 759.6L1546.2 765.9L1551.4 759.6M1541.0 774.9L1546.2 781.1L1551.4 774.9M1541.0 790.1L1546.2 796.4L1551.4 790.1M1541.0 805.4L1546.2 811.6L1551.4 805.4M1541.0 820.6L1546.2 826.9L1551.4 820.6M1541.0 835.9L1546.2 842.1L1551.4 835.9M1541.0 851.1L1546.2 857.4L1551.4 851.1M1541.0 866.4L1546.2 872.6L1551.4 866.4M1541.0 881.6L1546.2 887.9L1551.4 881.6M1541.0 896.9L1546.2 903.1L1551.4 896.9M1541.0 912.1L1546.2 918.4L1551.4 912.1M1541.0 927.4L1546.2 933.6L1551.4 927.4M1541.0 942.6L1546.2 948.9L1551.4 942.6M1541.0 957.9L1546.2 964.1L1551.4 957.9M1541.0 973.1L1546.2 979.4L1551.4 973.1M1541.0 988.4L1546.2 994.6L1551.4 988.4M1541.0 1003.6L1546.2 1009.9L1551.4 1003.6M1541.0 1018.9L1546.2 1025.1L1551.4 1018.9M1541.0 1034.1L1546.2 1040.3L1551.4 1034.1M1541.0 1049.4L1546.2 1055.6L1551.4 1049.4M1541.0 1064.6L1546.2 1070.8L1551.4 1064.6M1541.0 1079.9L1546.2 1086.1L1551.4 1079.9M1541.0 1095.1L1546.2 1101.3L1551.4 1095.1M1541.0 1110.4L1546.2 1116.6L1551.4 1110.4M1541.0 1125.6L1546.2 1131.8L1551.4 1125.6M1541.0 1140.9L1546.2 1147.1L1551.4 1140.9M1541.0 1156.1L1546.2 1162.3L1551.4 1156.1M1541.0 1171.4L1546.2 1177.6L1551.4 1171.4M1541.0 1186.6L1546.2 1192.8L1551.4 1186.6M1541.0 1201.9L1546.2 1208.1L1551.4 1201.9M1541.0 1217.1L1546.2 1223.3L1551.4 1217.1M1556.3 538.9L1561.5 545.1L1566.7 538.9M1556.3 554.1L1561.5 560.4L1566.7 554.1M1556.3 569.4L1561.5 575.6L1566.7 569.4M1556.3 584.6L1561.5 590.9L1566.7 584.6M1556.3 599.9L1561.5 606.1L1566.7 599.9M1556.3 615.1L1561.5 621.4L1566.7 615.1M1556.3 630.4L1561.5 636.6L1566.7 630.4M1556.3 645.6L1561.5 651.9L1566.7 645.6M1556.3 660.9L1561.5 667.1L1566.7 660.9M1556.3 676.1L1561.5 682.4L1566.7 676.1M1556.3 691.4L1561.5 697.6L1566.7 691.4M1556.3 706.6L1561.5 712.9L1566.7 706.6M1556.3 721.9L1561.5 728.1L1566.7 721.9M1556.3 737.1L1561.5 743.4L1566.7 737.1M1556.3 752.4L1561.5 758.6L1566.7 752.4M1556.3 767.6L1561.5 773.9L1566.7 767.6M1556.3 782.9L1561.5 789.1L1566.7 782.9M1556.3 798.1L1561.5 804.4L1566.7 798.1M1556.3 813.4L1561.5 819.6L1566.7 813.4M1556.3 828.6L1561.5 834.9L1566.7 828.6M1556.3 843.9L1561.5 850.1L1566.7 843.9M1556.3 859.1L1561.5 865.4L1566.7 859.1M1556.3 874.4L1561.5 880.6L1566.7 874.4M1556.3 889.6L1561.5 895.9L1566.7 889.6M1556.3 904.9L1561.5 911.1L1566.7 904.9M1556.3 920.1L1561.5 926.4L1566.7 920.1M1556.3 935.4L1561.5 941.6L1566.7 935.4M1556.3 950.6L1561.5 956.9L1566.7 950.6M1556.3 965.9L1561.5 972.1L1566.7 965.9M1556.3 981.1L1561.5 987.4L1566.7 981.1M1556.3 996.4L1561.5 1002.6L1566.7 996.4M1556.3 1011.6L1561.5 1017.9L1566.7 1011.6M1556.3 1026.9L1561.5 1033.1L1566.7 1026.9M1556.3 1042.1L1561.5 1048.3L1566.7 1042.1M1556.3 1057.4L1561.5 1063.6L1566.7 1057.4M1556.3 1072.6L1561.5 1078.8L1566.7 1072.6M1556.3 1087.9L1561.5 1094.1L1566.7 1087.9M1556.3 1103.1L1561.5 1109.3L1566.7 1103.1M1556.3 1118.4L1561.5 1124.6L1566.7 1118.4M1556.3 1133.6L1561.5 1139.8L1566.7 1133.6M1556.3 1148.9L1561.5 1155.1L1566.7 1148.9M1556.3 1164.1L1561.5 1170.3L1566.7 1164.1M1556.3 1179.4L1561.5 1185.6L1566.7 1179.4M1556.3 1194.6L1561.5 1200.8L1566.7 1194.6M1556.3 1209.9L1561.5 1216.1L1566.7 1209.9M1571.6 546.1L1576.8 552.4L1582.0 546.1M1571.6 561.4L1576.8 567.6L1582.0 561.4M1571.6 576.6L1576.8 582.9L1582.0 576.6M1571.6 591.9L1576.8 598.1L1582.0 591.9M1571.6 607.1L1576.8 613.4L1582.0 607.1M1571.6 622.4L1576.8 628.6L1582.0 622.4M1571.6 637.6L1576.8 643.9L1582.0 637.6M1571.6 652.9L1576.8 659.1L1582.0 652.9M1571.6 668.1L1576.8 674.4L1582.0 668.1M1571.6 683.4L1576.8 689.6L1582.0 683.4M1571.6 698.6L1576.8 704.9L1582.0 698.6M1571.6 713.9L1576.8 720.1L1582.0 713.9M1571.6 729.1L1576.8 735.4L1582.0 729.1M1571.6 744.4L1576.8 750.6L1582.0 744.4M1571.6 759.6L1576.8 765.9L1582.0 759.6M1571.6 774.9L1576.8 781.1L1582.0 774.9M1571.6 790.1L1576.8 796.4L1582.0 790.1M1571.6 805.4L1576.8 811.6L1582.0 805.4M1571.6 820.6L1576.8 826.9L1582.0 820.6M1571.6 835.9L1576.8 842.1L1582.0 835.9M1571.6 851.1L1576.8 857.4L1582.0 851.1M1571.6 866.4L1576.8 872.6L1582.0 866.4M1571.6 881.6L1576.8 887.9L1582.0 881.6M1571.6 896.9L1576.8 903.1L1582.0 896.9M1571.6 912.1L1576.8 918.4L1582.0 912.1M1571.6 927.4L1576.8 933.6L1582.0 927.4M1571.6 942.6L1576.8 948.9L1582.0 942.6M1571.6 957.9L1576.8 964.1L1582.0 957.9M1571.6 973.1L1576.8 979.4L1582.0 973.1M1571.6 988.4L1576.8 994.6L1582.0 988.4M1571.6 1003.6L1576.8 1009.9L1582.0 1003.6M1571.6 1018.9L1576.8 1025.1L1582.0 1018.9M1571.6 1034.1L1576.8 1040.3L1582.0 1034.1M1571.6 1049.4L1576.8 1055.6L1582.0 1049.4M1571.6 1064.6L1576.8 1070.8L1582.0 1064.6M1571.6 1079.9L1576.8 1086.1L1582.0 1079.9M1571.6 1095.1L1576.8 1101.3L1582.0 1095.1M1571.6 1110.4L1576.8 1116.6L1582.0 1110.4M1571.6 1125.6L1576.8 1131.8L1582.0 1125.6M1571.6 1140.9L1576.8 1147.1L1582.0 1140.9M1571.6 1156.1L1576.8 1162.3L1582.0 1156.1M1571.6 1171.4L1576.8 1177.6L1582.0 1171.4M1571.6 1186.6L1576.8 1192.8L1582.0 1186.6M1571.6 1201.9L1576.8 1208.1L1582.0 1201.9M1571.6 1217.1L1576.8 1223.3L1582.0 1217.1M1586.9 538.9L1592.1 545.1L1597.3 538.9M1586.9 554.1L1592.1 560.4L1597.3 554.1M1586.9 569.4L1592.1 575.6L1597.3 569.4M1586.9 584.6L1592.1 590.9L1597.3 584.6M1586.9 599.9L1592.1 606.1L1597.3 599.9M1586.9 615.1L1592.1 621.4L1597.3 615.1M1586.9 630.4L1592.1 636.6L1597.3 630.4M1586.9 645.6L1592.1 651.9L1597.3 645.6M1586.9 660.9L1592.1 667.1L1597.3 660.9M1586.9 676.1L1592.1 682.4L1597.3 676.1M1586.9 691.4L1592.1 697.6L1597.3 691.4M1586.9 706.6L1592.1 712.9L1597.3 706.6M1586.9 721.9L1592.1 728.1L1597.3 721.9M1586.9 737.1L1592.1 743.4L1597.3 737.1M1586.9 752.4L1592.1 758.6L1597.3 752.4M1586.9 767.6L1592.1 773.9L1597.3 767.6M1586.9 782.9L1592.1 789.1L1597.3 782.9M1586.9 798.1L1592.1 804.4L1597.3 798.1M1586.9 813.4L1592.1 819.6L1597.3 813.4M1586.9 828.6L1592.1 834.9L1597.3 828.6M1586.9 843.9L1592.1 850.1L1597.3 843.9M1586.9 859.1L1592.1 865.4L1597.3 859.1M1586.9 874.4L1592.1 880.6L1597.3 874.4M1586.9 889.6L1592.1 895.9L1597.3 889.6M1586.9 904.9L1592.1 911.1L1597.3 904.9M1586.9 920.1L1592.1 926.4L1597.3 920.1M1586.9 935.4L1592.1 941.6L1597.3 935.4M1586.9 950.6L1592.1 956.9L1597.3 950.6M1586.9 965.9L1592.1 972.1L1597.3 965.9M1586.9 981.1L1592.1 987.4L1597.3 981.1M1586.9 996.4L1592.1 1002.6L1597.3 996.4M1586.9 1011.6L1592.1 1017.9L1597.3 1011.6M1586.9 1026.9L1592.1 1033.1L1597.3 1026.9M1586.9 1042.1L1592.1 1048.3L1597.3 1042.1M1586.9 1057.4L1592.1 1063.6L1597.3 1057.4M1586.9 1072.6L1592.1 1078.8L1597.3 1072.6M1586.9 1087.9L1592.1 1094.1L1597.3 1087.9M1586.9 1103.1L1592.1 1109.3L1597.3 1103.1M1586.9 1118.4L1592.1 1124.6L1597.3 1118.4M1586.9 1133.6L1592.1 1139.8L1597.3 1133.6M1586.9 1148.9L1592.1 1155.1L1597.3 1148.9M1586.9 1164.1L1592.1 1170.3L1597.3 1164.1M1586.9 1179.4L1592.1 1185.6L1597.3 1179.4M1586.9 1194.6L1592.1 1200.8L1597.3 1194.6M1586.9 1209.9L1592.1 1216.1L1597.3 1209.9M1602.2 546.1L1607.4 552.4L1612.6 546.1M1602.2 561.4L1607.4 567.6L1612.6 561.4M1602.2 576.6L1607.4 582.9L1612.6 576.6M1602.2 591.9L1607.4 598.1L1612.6 591.9M1602.2 607.1L1607.4 613.4L1612.6 607.1M1602.2 622.4L1607.4 628.6L1612.6 622.4M1602.2 637.6L1607.4 643.9L1612.6 637.6M1602.2 652.9L1607.4 659.1L1612.6 652.9M1602.2 668.1L1607.4 674.4L1612.6 668.1M1602.2 683.4L1607.4 689.6L1612.6 683.4M1602.2 698.6L1607.4 704.9L1612.6 698.6M1602.2 713.9L1607.4 720.1L1612.6 713.9M1602.2 729.1L1607.4 735.4L1612.6 729.1M1602.2 744.4L1607.4 750.6L1612.6 744.4M1602.2 759.6L1607.4 765.9L1612.6 759.6M1602.2 774.9L1607.4 781.1L1612.6 774.9M1602.2 790.1L1607.4 796.4L1612.6 790.1M1602.2 805.4L1607.4 811.6L1612.6 805.4M1602.2 820.6L1607.4 826.9L1612.6 820.6M1602.2 835.9L1607.4 842.1L1612.6 835.9M1602.2 851.1L1607.4 857.4L1612.6 851.1M1602.2 866.4L1607.4 872.6L1612.6 866.4M1602.2 881.6L1607.4 887.9L1612.6 881.6M1602.2 896.9L1607.4 903.1L1612.6 896.9M1602.2 912.1L1607.4 918.4L1612.6 912.1M1602.2 927.4L1607.4 933.6L1612.6 927.4M1602.2 942.6L1607.4 948.9L1612.6 942.6M1602.2 957.9L1607.4 964.1L1612.6 957.9M1602.2 973.1L1607.4 979.4L1612.6 973.1M1602.2 988.4L1607.4 994.6L1612.6 988.4M1602.2 1003.6L1607.4 1009.9L1612.6 1003.6M1602.2 1018.9L1607.4 1025.1L1612.6 1018.9M1602.2 1034.1L1607.4 1040.3L1612.6 1034.1M1602.2 1049.4L1607.4 1055.6L1612.6 1049.4M1602.2 1064.6L1607.4 1070.8L1612.6 1064.6M1602.2 1079.9L1607.4 1086.1L1612.6 1079.9M1602.2 1095.1L1607.4 1101.3L1612.6 1095.1M1602.2 1110.4L1607.4 1116.6L1612.6 1110.4M1602.2 1125.6L1607.4 1131.8L1612.6 1125.6M1602.2 1140.9L1607.4 1147.1L1612.6 1140.9M1602.2 1156.1L1607.4 1162.3L1612.6 1156.1M1602.2 1171.4L1607.4 1177.6L1612.6 1171.4M1602.2 1186.6L1607.4 1192.8L1612.6 1186.6M1602.2 1201.9L1607.4 1208.1L1612.6 1201.9M1602.2 1217.1L1607.4 1223.3L1612.6 1217.1M1617.5 538.9L1622.7 545.1L1627.9 538.9M1617.5 554.1L1622.7 560.4L1627.9 554.1M1617.5 569.4L1622.7 575.6L1627.9 569.4M1617.5 584.6L1622.7 590.9L1627.9 584.6M1617.5 599.9L1622.7 606.1L1627.9 599.9M1617.5 615.1L1622.7 621.4L1627.9 615.1M1617.5 630.4L1622.7 636.6L1627.9 630.4M1617.5 645.6L1622.7 651.9L1627.9 645.6M1617.5 660.9L1622.7 667.1L1627.9 660.9M1617.5 676.1L1622.7 682.4L1627.9 676.1M1617.5 691.4L1622.7 697.6L1627.9 691.4M1617.5 706.6L1622.7 712.9L1627.9 706.6M1617.5 721.9L1622.7 728.1L1627.9 721.9M1617.5 737.1L1622.7 743.4L1627.9 737.1M1617.5 752.4L1622.7 758.6L1627.9 752.4M1617.5 767.6L1622.7 773.9L1627.9 767.6M1617.5 782.9L1622.7 789.1L1627.9 782.9M1617.5 798.1L1622.7 804.4L1627.9 798.1M1617.5 813.4L1622.7 819.6L1627.9 813.4M1617.5 828.6L1622.7 834.9L1627.9 828.6M1617.5 843.9L1622.7 850.1L1627.9 843.9M1617.5 859.1L1622.7 865.4L1627.9 859.1M1617.5 874.4L1622.7 880.6L1627.9 874.4M1617.5 889.6L1622.7 895.9L1627.9 889.6M1617.5 904.9L1622.7 911.1L1627.9 904.9M1617.5 920.1L1622.7 926.4L1627.9 920.1M1617.5 935.4L1622.7 941.6L1627.9 935.4M1617.5 950.6L1622.7 956.9L1627.9 950.6M1617.5 965.9L1622.7 972.1L1627.9 965.9M1617.5 981.1L1622.7 987.4L1627.9 981.1M1617.5 996.4L1622.7 1002.6L1627.9 996.4M1617.5 1011.6L1622.7 1017.9L1627.9 1011.6M1617.5 1026.9L1622.7 1033.1L1627.9 1026.9M1617.5 1042.1L1622.7 1048.3L1627.9 1042.1M1617.5 1057.4L1622.7 1063.6L1627.9 1057.4M1617.5 1072.6L1622.7 1078.8L1627.9 1072.6M1617.5 1087.9L1622.7 1094.1L1627.9 1087.9M1617.5 1103.1L1622.7 1109.3L1627.9 1103.1M1617.5 1118.4L1622.7 1124.6L1627.9 1118.4M1617.5 1133.6L1622.7 1139.8L1627.9 1133.6M1617.5 1148.9L1622.7 1155.1L1627.9 1148.9M1617.5 1164.1L1622.7 1170.3L1627.9 1164.1M1617.5 1179.4L1622.7 1185.6L1627.9 1179.4M1617.5 1194.6L1622.7 1200.8L1627.9 1194.6M1617.5 1209.9L1622.7 1216.1L1627.9 1209.9M1632.8 546.1L1638.0 552.4L1643.2 546.1M1632.8 561.4L1638.0 567.6L1643.2 561.4M1632.8 576.6L1638.0 582.9L1643.2 576.6M1632.8 591.9L1638.0 598.1L1643.2 591.9M1632.8 607.1L1638.0 613.4L1643.2 607.1M1632.8 622.4L1638.0 628.6L1643.2 622.4M1632.8 637.6L1638.0 643.9L1643.2 637.6M1632.8 652.9L1638.0 659.1L1643.2 652.9M1632.8 668.1L1638.0 674.4L1643.2 668.1M1632.8 683.4L1638.0 689.6L1643.2 683.4M1632.8 698.6L1638.0 704.9L1643.2 698.6M1632.8 713.9L1638.0 720.1L1643.2 713.9M1632.8 729.1L1638.0 735.4L1643.2 729.1M1632.8 744.4L1638.0 750.6L1643.2 744.4M1632.8 759.6L1638.0 765.9L1643.2 759.6M1632.8 774.9L1638.0 781.1L1643.2 774.9M1632.8 790.1L1638.0 796.4L1643.2 790.1M1632.8 805.4L1638.0 811.6L1643.2 805.4M1632.8 820.6L1638.0 826.9L1643.2 820.6M1632.8 835.9L1638.0 842.1L1643.2 835.9M1632.8 851.1L1638.0 857.4L1643.2 851.1M1632.8 866.4L1638.0 872.6L1643.2 866.4M1632.8 881.6L1638.0 887.9L1643.2 881.6M1632.8 896.9L1638.0 903.1L1643.2 896.9M1632.8 912.1L1638.0 918.4L1643.2 912.1M1632.8 927.4L1638.0 933.6L1643.2 927.4M1632.8 942.6L1638.0 948.9L1643.2 942.6M1632.8 957.9L1638.0 964.1L1643.2 957.9M1632.8 973.1L1638.0 979.4L1643.2 973.1M1632.8 988.4L1638.0 994.6L1643.2 988.4M1632.8 1003.6L1638.0 1009.9L1643.2 1003.6M1632.8 1018.9L1638.0 1025.1L1643.2 1018.9M1632.8 1034.1L1638.0 1040.3L1643.2 1034.1M1632.8 1049.4L1638.0 1055.6L1643.2 1049.4M1632.8 1064.6L1638.0 1070.8L1643.2 1064.6M1632.8 1079.9L1638.0 1086.1L1643.2 1079.9M1632.8 1095.1L1638.0 1101.3L1643.2 1095.1M1632.8 1110.4L1638.0 1116.6L1643.2 1110.4M1632.8 1125.6L1638.0 1131.8L1643.2 1125.6M1632.8 1140.9L1638.0 1147.1L1643.2 1140.9M1632.8 1156.1L1638.0 1162.3L1643.2 1156.1M1632.8 1171.4L1638.0 1177.6L1643.2 1171.4M1632.8 1186.6L1638.0 1192.8L1643.2 1186.6M1632.8 1201.9L1638.0 1208.1L1643.2 1201.9M1632.8 1217.1L1638.0 1223.3L1643.2 1217.1" stroke="#5e5e5e" stroke-width="4.9" fill="none" stroke-linejoin="miter"/>
</g>
<rect x="1555.6" y="548.8" width="74.4" height="657.9" rx="0.5" fill="none" stroke="#666666" stroke-width="3.6"/>
</g>
<text transform="translate(1590.6 483.9) scale(1.1 1.055)" font-size="69" text-anchor="middle" stroke="#0c0c0c" stroke-width="3.2" stroke-linejoin="round">b</text>
<path d="M1706.5 628.4V598.6M1688.5 598.6H1724.5" stroke="#181818" stroke-width="7.2" fill="none"/>
<g>
<clipPath id="cb11"><rect x="1666.5" y="626.4" width="80.0" height="582.1"/></clipPath>
<rect x="1666.5" y="626.4" width="80.0" height="582.1" fill="#ffffff"/>
<g clip-path="url(#cb11)">
</g>
<rect x="1668.4" y="628.3" width="76.2" height="578.3" rx="2" fill="none" stroke="#4c4c4c" stroke-width="3.8"/>
</g>
<text transform="translate(1701.6 547.5) scale(1.1 1.055)" font-size="69" text-anchor="middle" stroke="#0c0c0c" stroke-width="3.2" stroke-linejoin="round">b</text>
<path d="M210.0 61.4V1212.0" stroke="#0c0c0c" stroke-width="8.0" fill="none"/>
<path d="M187 1208.7H1804.4" stroke="#0c0c0c" stroke-width="7.8" fill="none"/>
<path d="M187 1017.9H210.0M187 827.3H210.0M187 636.7H210.0M187 446.1H210.0M187 255.5H210.0M187 64.9H210.0" stroke="#0c0c0c" stroke-width="6.6" fill="none"/>
<path d="M473.9 1208.5V1229.5M1005.2 1208.5V1229.5M1535.4 1208.5V1229.5" stroke="#0c0c0c" stroke-width="7" fill="none"/>
<text transform="scale(0.935 1)" x="152.4" y="1228.9" font-size="68" stroke="#0c0c0c" stroke-width="2.5" stroke-linejoin="round">0</text>
<text transform="scale(0.935 1)" x="152.4" y="1038.3" font-size="68" stroke="#0c0c0c" stroke-width="2.5" stroke-linejoin="round">2</text>
<text transform="scale(0.935 1)" x="152.6" y="847.7" font-size="68" stroke="#0c0c0c" stroke-width="2.5" stroke-linejoin="round">4</text>
<text transform="scale(0.935 1)" x="152.2" y="657.1" font-size="68" stroke="#0c0c0c" stroke-width="2.5" stroke-linejoin="round">6</text>
<text transform="scale(0.935 1)" x="152.4" y="466.5" font-size="68" stroke="#0c0c0c" stroke-width="2.5" stroke-linejoin="round">8</text>
<text transform="scale(0.935 1)" x="114.1 152.4" y="275.9" font-size="68" stroke="#0c0c0c" stroke-width="2.5" stroke-linejoin="round">10</text>
<text transform="scale(0.935 1)" x="114.1 152.4" y="85.3" font-size="68" stroke="#0c0c0c" stroke-width="2.5" stroke-linejoin="round">12</text>
<text x="310.3 357.0 375.9 396.2 436.2 455.6 497.3 516.9 543.5 562.6 601.2" y="1300.0" font-size="68" font-style="italic" stroke="#0c0c0c" stroke-width="2.6" stroke-linejoin="round"><tspan font-size="71">P</tspan>. sibirica</text>
<text x="809.4 855.3 874.2 894.7 919.4 956.9 979.5 1018.9 1046.7 1064.6 1103.1 1145.7" y="1300.0" font-size="68" font-style="italic" stroke="#0c0c0c" stroke-width="2.6" stroke-linejoin="round"><tspan font-size="71">A</tspan>. tataricum</text>
<text x="1288.7 1335.2 1354.1 1373.5 1395.5 1432.2 1476.1 1514.4 1555.7 1598.4 1640.7 1668.7 1708.3 1747.7" y="1300.0" font-size="68" font-style="italic" stroke="#0c0c0c" stroke-width="2.6" stroke-linejoin="round"><tspan font-size="71">S</tspan>. ledebourena</text>
<text x="774.1 817.9 847.7 889.5 929.0 953.7 996.8 1044.0 1085.8 1128.9 1149.7 1193.0" y="1403.4" font-size="71" font-weight="bold" stroke="#0c0c0c" stroke-width="0.6"><tspan font-size="74.5">T</tspan>ree species</text>
<text transform="translate(75.2 1240.0) rotate(-90)" font-size="63" font-weight="bold" xml:space="preserve"><tspan x="1.8 45.7 82.0 100.5 136.8 156.8 177.6 212.1"><tspan font-size="66">R</tspan>elative</tspan> <tspan x="257.8 295.7 332.6 352.5 389.5 430.2">height</tspan> <tspan x="466.2 503.4 529.4 570.2 621.9 639.2">growth</tspan> <tspan x="692.1 718.0 753.7 772.8">rate</tspan> <tspan x="826.9" font-weight="normal" stroke="#0c0c0c" stroke-width="1.0">(</tspan><tspan x="849.1 884.1">cm</tspan> <tspan x="954.8 1011.9 1051.9 1092.7 1112.6">month</tspan><tspan x="1153.6 1164.5" dy="-20.5" font-size="40" font-weight="bold">-1</tspan><tspan x="1189.3" dy="20.5" font-weight="normal" stroke="#0c0c0c" stroke-width="1.0">)</tspan></text>
<g>
<clipPath id="cl0"><rect x="1795.6" y="69.5" width="86.4" height="49.1"/></clipPath>
<rect x="1795.6" y="69.5" width="86.4" height="49.1" fill="#848484"/>
<g clip-path="url(#cl0)">
<path d="M1789.6 57.4L1888.0 -38.4M1789.6 76.3L1888.0 -19.5M1789.6 95.2L1888.0 -0.6M1789.6 114.1L1888.0 18.3M1789.6 133.0L1888.0 37.2M1789.6 151.9L1888.0 56.1M1789.6 170.8L1888.0 75.0M1789.6 189.7L1888.0 93.9M1789.6 208.6L1888.0 112.8M1789.6 227.5L1888.0 131.7M1789.6 246.4L1888.0 150.6M1789.6 265.3L1888.0 169.5" stroke="#202020" stroke-width="6.9" fill="none"/>
</g>
<rect x="1797.1" y="71.0" width="83.4" height="46.1" rx="0.5" fill="none" stroke="#2a2a2a" stroke-width="3.0"/>
</g>
<text x="1926.0" y="112.6" font-size="68" stroke="#0c0c0c" stroke-width="0.6">HA<tspan font-size="47.5" x="2018.9" y="127.6">20</tspan></text>
<g>
<clipPath id="cl1"><rect x="1795.6" y="160.2" width="86.4" height="49.1"/></clipPath>
<rect x="1795.6" y="160.2" width="86.4" height="49.1" fill="#cdcdcd"/>
<g clip-path="url(#cl1)">
<path d="M1819.2 160.2V209.3M1842.3 160.2V209.3M1865.4 160.2V209.3M1795.6 181.6H1882.0" stroke="#3e3e3e" stroke-width="5.0" fill="none"/>
</g>
<rect x="1797.2" y="161.8" width="83.2" height="45.9" rx="0.5" fill="none" stroke="#5e5e5e" stroke-width="3.2"/>
</g>
<text x="1926.0" y="203.4" font-size="68" stroke="#0c0c0c" stroke-width="0.6">HA<tspan font-size="47.5" x="2018.9" y="218.3">10</tspan></text>
<g>
<clipPath id="cl2"><rect x="1795.6" y="244.3" width="86.4" height="49.9"/></clipPath>
<rect x="1795.6" y="244.3" width="86.4" height="49.9" fill="#cbcbcb"/>
<g clip-path="url(#cl2)">
<path d="M1782.8 243.5L1788.0 249.7L1793.2 243.5M1782.8 258.7L1788.0 264.9L1793.2 258.7M1782.8 274.0L1788.0 280.2L1793.2 274.0M1782.8 289.2L1788.0 295.4L1793.2 289.2M1782.8 304.5L1788.0 310.7L1793.2 304.5M1798.1 236.2L1803.3 242.4L1808.5 236.2M1798.1 251.5L1803.3 257.6L1808.5 251.5M1798.1 266.7L1803.3 272.9L1808.5 266.7M1798.1 281.9L1803.3 288.1L1808.5 281.9M1798.1 297.2L1803.3 303.4L1808.5 297.2M1813.4 243.5L1818.6 249.7L1823.8 243.5M1813.4 258.7L1818.6 264.9L1823.8 258.7M1813.4 274.0L1818.6 280.2L1823.8 274.0M1813.4 289.2L1818.6 295.4L1823.8 289.2M1813.4 304.5L1818.6 310.7L1823.8 304.5M1828.7 236.2L1833.9 242.4L1839.1 236.2M1828.7 251.5L1833.9 257.6L1839.1 251.5M1828.7 266.7L1833.9 272.9L1839.1 266.7M1828.7 281.9L1833.9 288.1L1839.1 281.9M1828.7 297.2L1833.9 303.4L1839.1 297.2M1844.0 243.5L1849.2 249.7L1854.4 243.5M1844.0 258.7L1849.2 264.9L1854.4 258.7M1844.0 274.0L1849.2 280.2L1854.4 274.0M1844.0 289.2L1849.2 295.4L1854.4 289.2M1844.0 304.5L1849.2 310.7L1854.4 304.5M1859.3 236.2L1864.5 242.4L1869.7 236.2M1859.3 251.5L1864.5 257.6L1869.7 251.5M1859.3 266.7L1864.5 272.9L1869.7 266.7M1859.3 281.9L1864.5 288.1L1869.7 281.9M1859.3 297.2L1864.5 303.4L1869.7 297.2M1874.6 243.5L1879.8 249.7L1885.0 243.5M1874.6 258.7L1879.8 264.9L1885.0 258.7M1874.6 274.0L1879.8 280.2L1885.0 274.0M1874.6 289.2L1879.8 295.4L1885.0 289.2M1874.6 304.5L1879.8 310.7L1885.0 304.5M1889.9 236.2L1895.1 242.4L1900.3 236.2M1889.9 251.5L1895.1 257.6L1900.3 251.5M1889.9 266.7L1895.1 272.9L1900.3 266.7M1889.9 281.9L1895.1 288.1L1900.3 281.9M1889.9 297.2L1895.1 303.4L1900.3 297.2" stroke="#5e5e5e" stroke-width="4.9" fill="none" stroke-linejoin="miter"/>
</g>
<rect x="1797.4" y="246.1" width="82.8" height="46.3" rx="0.5" fill="none" stroke="#666666" stroke-width="3.6"/>
</g>
<text x="1926.0" y="286.9" font-size="68" stroke="#0c0c0c" stroke-width="0.6">HA<tspan font-size="47.5" x="2018.9" y="302.6">0.2</tspan></text>
<g>
<clipPath id="cl3"><rect x="1795.6" y="329.6" width="86.4" height="49.4"/></clipPath>
<rect x="1795.6" y="329.6" width="86.4" height="49.4" fill="#ffffff"/>
<g clip-path="url(#cl3)">
</g>
<rect x="1797.5" y="331.5" width="82.6" height="45.6" rx="2" fill="none" stroke="#4c4c4c" stroke-width="3.8"/>
</g>
<text x="1926.0" y="371.0" font-size="68" stroke="#0c0c0c" stroke-width="0.6">HA<tspan font-size="47.5" x="2018.9" y="388.2">0</tspan></text>
</g>
</svg>
</body>
</html>
